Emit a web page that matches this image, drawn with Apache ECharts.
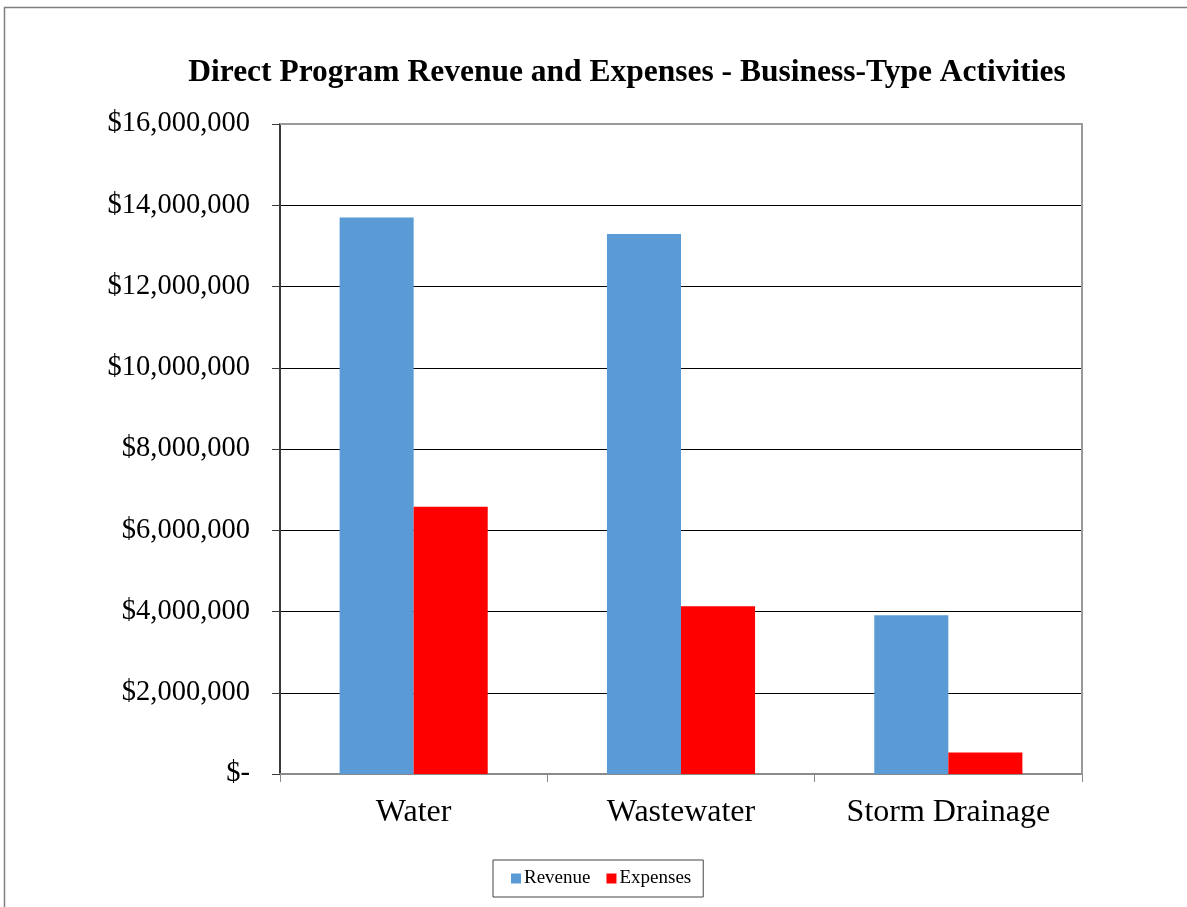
<!DOCTYPE html>
<html>
<head>
<meta charset="utf-8">
<script src="https://cdn.jsdelivr.net/npm/echarts@6/dist/echarts.min.js"></script>
<style>
  html, body { margin: 0; padding: 0; background: #fff; }
  #chart { width: 1187px; height: 907px; }
</style>
</head>
<body>
<div id="chart"></div>
<script>
// Business-type activities: direct program revenue vs. expenses
const categories = ['Water', 'Wastewater', 'Storm Drainage'];
const revenue = [13700000, 13290000, 3910000];
const expenses = [6580000, 4130000, 530000];
const yTicks = { min: 0, max: 16000000, interval: 2000000 };

const serif = '"Liberation Serif", "Times New Roman", serif';
const plot = { left: 280, right: 105, top: 124, bottom: 133 };
const W = 1187, H = 907;

function money(v) {
  if (v === 0) return '$-';
  return '$' + v.toLocaleString('en-US');
}

const chart = echarts.init(document.getElementById('chart'), null, { renderer: 'canvas' });
chart.setOption({
  backgroundColor: '#fff',
  animation: false,
  graphic: [
    {
      // outer chart frame
      type: 'rect',
      shape: { x: 4.5, y: 7.5, width: 1200, height: 920 },
      style: { fill: 'none', stroke: '#808080', lineWidth: 1.5 },
      silent: true
    },
    {
      // plot area top edge
      type: 'line', z: 100,
      shape: { x1: plot.left, y1: plot.top, x2: W - plot.right + 1, y2: plot.top },
      style: { stroke: '#9a9a9a', lineWidth: 2 },
      silent: true
    },
    {
      // plot area right edge
      type: 'line', z: 100,
      shape: { x1: W - plot.right, y1: plot.top - 1, x2: W - plot.right, y2: H - plot.bottom },
      style: { stroke: '#9a9a9a', lineWidth: 2 },
      silent: true
    }
  ],
  title: {
    text: 'Direct Program Revenue and Expenses - Business-Type Activities',
    left: 622,
    top: 52,
    textAlign: 'center',
    textStyle: { fontFamily: serif, fontWeight: 'bold', fontSize: 31.5, color: '#000' }
  },
  legend: {
    data: ['Revenue', 'Expenses'],
    left: 493,
    top: 860,
    orient: 'horizontal',
    icon: 'rect',
    itemWidth: 10,
    itemHeight: 10,
    itemGap: 16,
    padding: [9, 12, 9, 18],
    borderColor: '#444',
    borderWidth: 1,
    textStyle: { fontFamily: serif, fontSize: 19, color: '#000', padding: [0, 0, 0, -2] }
  },
  grid: {
    left: plot.left, right: plot.right, top: plot.top, bottom: plot.bottom,
    show: false,
    containLabel: false
  },
  xAxis: {
    type: 'category',
    data: categories,
    axisLine: { lineStyle: { color: '#8a8a8a', width: 2 } },
    axisTick: { show: true, alignWithLabel: false, length: 8, lineStyle: { color: '#8a8a8a', width: 1 } },
    axisLabel: { fontFamily: serif, fontSize: 32, color: '#000', margin: 23 },
    splitLine: { show: false }
  },
  yAxis: {
    type: 'value',
    min: yTicks.min,
    max: yTicks.max,
    interval: yTicks.interval,
    axisLine: { show: true, lineStyle: { color: '#3a3a3a', width: 2 } },
    axisTick: { show: true, length: 8, lineStyle: { color: '#3a3a3a', width: 1 } },
    axisLabel: { fontFamily: serif, fontSize: 28.5, color: '#000', margin: 30, formatter: money },
    splitLine: { show: true, lineStyle: { color: '#000', width: 1 } }
  },
  series: [
    {
      name: 'Revenue',
      type: 'bar',
      data: revenue,
      barGap: '0%',
      barCategoryGap: '44.6%',
      itemStyle: { color: '#5B9BD5' }
    },
    {
      name: 'Expenses',
      type: 'bar',
      data: expenses,
      barGap: '0%',
      barCategoryGap: '44.6%',
      itemStyle: { color: '#FF0000' }
    }
  ]
});
</script>
</body>
</html>
